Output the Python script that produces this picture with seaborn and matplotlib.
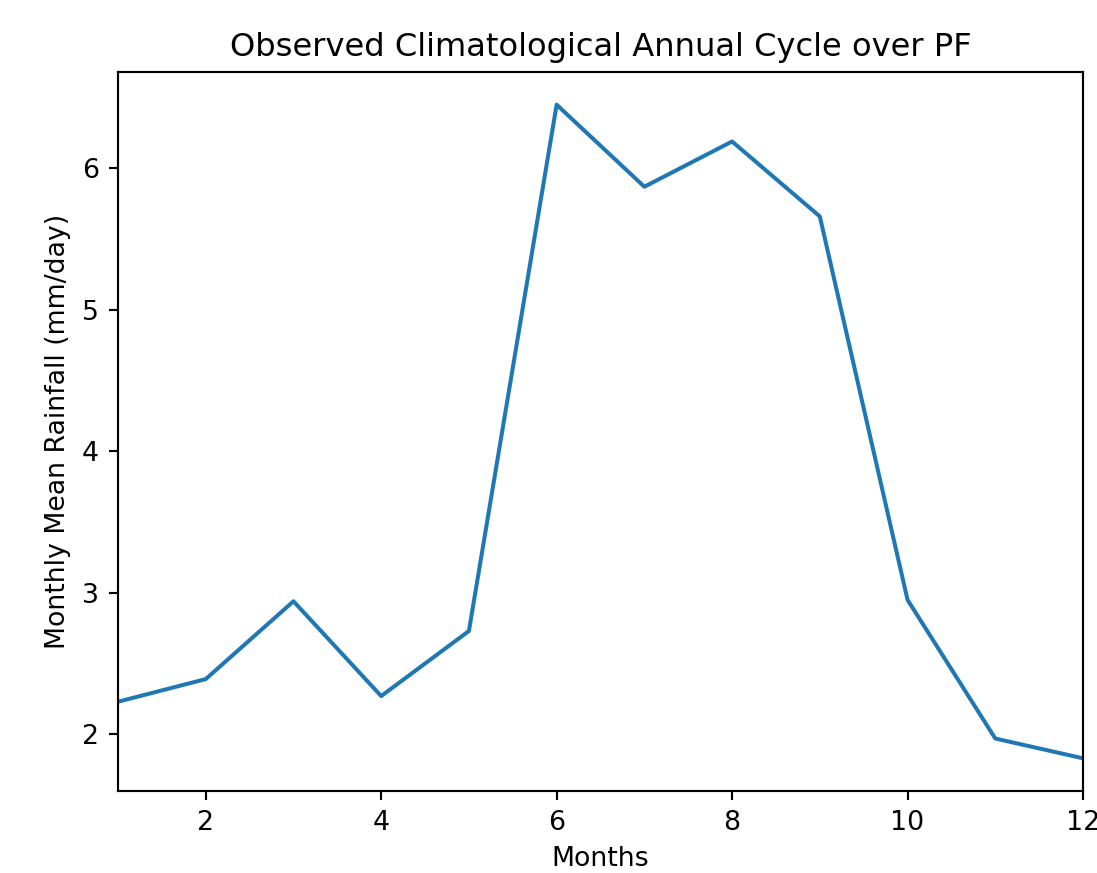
import pandas as pd
import matplotlib
matplotlib.use("Agg")
import matplotlib.pyplot as plt
import seaborn as sns

# monthly climatology values
months = [1, 2, 3, 4, 5, 6, 7, 8, 9, 10, 11, 12]
rainfall = [2.23, 2.39, 2.94, 2.27, 2.73, 6.45, 5.87, 6.19, 5.66, 2.95, 1.97, 1.83]

df = pd.DataFrame({"month": months, "rain": rainfall})

dpi = 193
fig = plt.figure(figsize=(1097 / dpi, 873 / dpi), dpi=dpi)
ax = fig.add_axes([118 / 1097, 1 - 791 / 873, (1083 - 118) / 1097, (791 - 72) / 873])

sns.lineplot(data=df, x="month", y="rain", ax=ax, color="tab:blue", linewidth=1.5)

ax.set_xlim(1, 12)
ax.set_xlabel("Months")
ax.set_ylabel("Monthly Mean Rainfall (mm/day)")
ax.set_title("Observed Climatological Annual Cycle over PF")

fig.savefig("out.png", dpi=dpi)
